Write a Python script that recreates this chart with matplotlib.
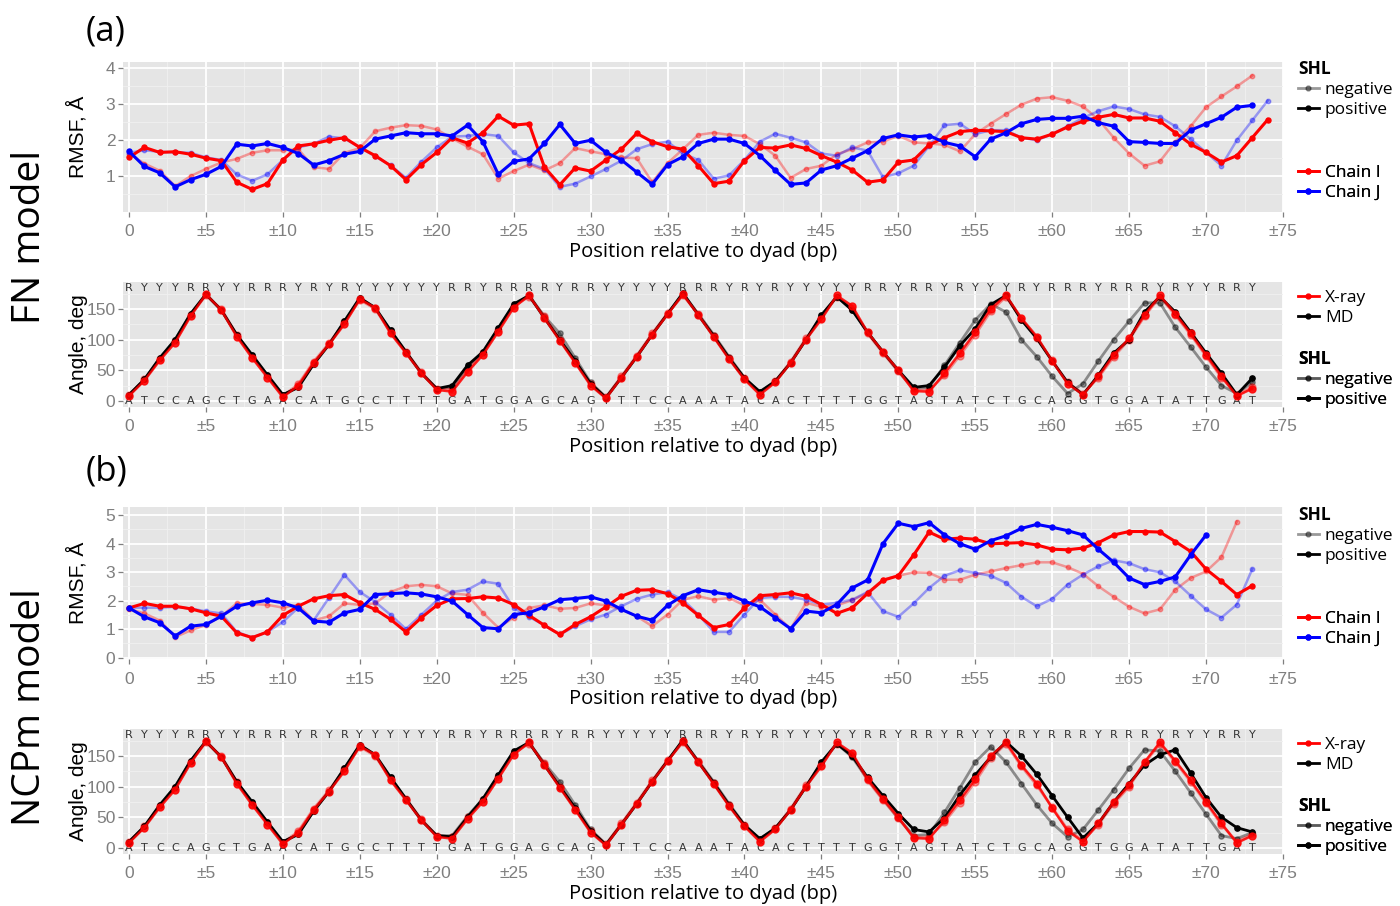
import numpy as np
import matplotlib.pyplot as plt
from matplotlib.lines import Line2D

plt.rcParams['font.family'] = ['Liberation Sans', 'DejaVu Sans']

# ---------------- data ----------------
tick_pos = list(range(0, 80, 5))
tick_labels = ['0'] + ['±%d' % t for t in tick_pos[1:]]

seq = "ATCCAGCTGAACATGCCTTTTGATGGAGCAGTTTCCAAATACACTTTTGGTAGTATCTGCAGGTGGATATTGAT"
ry = ''.join('R' if b in 'AG' else 'Y' for b in seq)

# (a) FN model, RMSF
fn_I_pos = [1.52, 1.80, 1.66, 1.68, 1.61, 1.50, 1.43, 0.83, 0.63, 0.79,
            1.45, 1.84, 1.90, 2.00, 2.07, 1.80, 1.57, 1.29, 0.90, 1.32,
            1.66, 2.07, 1.92, 2.21, 2.67, 2.42, 2.46, 1.25, 0.76, 1.23,
            1.14, 1.45, 1.75, 2.19, 1.96, 1.82, 1.75, 1.29, 0.79, 0.86,
            1.43, 1.80, 1.78, 1.87, 1.77, 1.57, 1.39, 1.17, 0.83, 0.89,
            1.39, 1.45, 1.87, 2.07, 2.24, 2.28, 2.26, 2.24, 2.07, 2.03,
            2.17, 2.37, 2.53, 2.64, 2.72, 2.62, 2.62, 2.53, 2.21, 1.89,
            1.66, 1.39, 1.57, 2.07, 2.57]
fn_I_neg = [1.62, 1.35, 1.15, 0.72, 1.00, 1.20, 1.38, 1.48, 1.65, 1.72,
            1.72, 1.75, 1.25, 1.20, 1.65, 1.78, 2.25, 2.35, 2.42, 2.40,
            2.30, 2.05, 1.82, 1.61, 0.93, 1.14, 1.32, 1.16, 1.36, 1.78,
            1.69, 1.61, 1.52, 1.50, 0.83, 1.36, 1.75, 2.15, 2.21, 2.15,
            2.12, 1.89, 1.57, 0.95, 1.20, 1.29, 1.61, 1.75, 1.94, 1.96,
            2.12, 1.94, 1.91, 1.87, 1.69, 2.17, 2.46, 2.73, 2.99, 3.16,
            3.20, 3.10, 2.94, 2.58, 2.07, 1.63, 1.29, 1.41, 1.96, 2.39,
            2.92, 3.22, 3.50, 3.80]
fn_J_pos = [1.69, 1.27, 1.09, 0.70, 0.90, 1.05, 1.27, 1.89, 1.84, 1.91,
            1.80, 1.63, 1.31, 1.43, 1.61, 1.69, 2.03, 2.12, 2.21, 2.18,
            2.18, 2.12, 2.42, 1.96, 1.05, 1.41, 1.48, 1.91, 2.44, 1.91,
            2.00, 1.66, 1.45, 1.11, 0.77, 1.32, 1.54, 1.91, 2.03, 2.03,
            1.91, 1.57, 1.16, 0.77, 0.81, 1.17, 1.29, 1.50, 1.71, 2.05,
            2.15, 2.09, 2.13, 1.94, 1.84, 1.54, 2.03, 2.21, 2.46, 2.58,
            2.61, 2.61, 2.67, 2.49, 2.39, 1.96, 1.94, 1.91, 1.91, 2.28,
            2.46, 2.64, 2.92, 2.97]
fn_J_neg = [1.65, 1.72, 1.68, 1.66, 1.65, 1.52, 1.45, 1.05, 0.87, 1.05,
            1.45, 1.80, 1.90, 2.10, 2.05, 1.80, 1.55, 1.30, 0.95, 1.40,
            1.80, 2.10, 2.12, 2.17, 2.12, 1.66, 1.36, 1.20, 0.70, 0.79,
            0.99, 1.20, 1.43, 1.75, 1.89, 1.96, 1.63, 1.45, 0.93, 1.02,
            1.45, 1.96, 2.18, 2.07, 1.94, 1.63, 1.57, 1.80, 1.71, 0.97,
            1.08, 1.29, 1.84, 2.42, 2.46, 2.17, 2.28, 2.28, 2.07, 2.00,
            2.17, 2.39, 2.62, 2.81, 2.94, 2.87, 2.72, 2.65, 2.39, 2.03,
            1.66, 1.29, 2.00, 2.55, 3.10]

# (b) NCPm model, RMSF
nc_I_pos = [1.74, 1.90, 1.80, 1.80, 1.71, 1.57, 1.45, 0.87, 0.70, 0.90,
            1.48, 1.80, 2.06, 2.17, 2.21, 1.92, 1.69, 1.34, 0.90, 1.40,
            1.83, 2.06, 2.07, 2.13, 2.09, 1.86, 1.48, 1.13, 0.81, 1.16,
            1.43, 1.78, 2.15, 2.36, 2.38, 2.24, 1.92, 1.48, 1.05, 1.16,
            1.74, 2.17, 2.21, 2.27, 2.15, 1.86, 1.55, 1.74, 2.25, 2.71,
            2.87, 3.60, 4.40, 4.15, 4.19, 4.15, 3.99, 4.01, 4.03, 3.95,
            3.80, 3.78, 3.84, 4.03, 4.30, 4.42, 4.42, 4.40, 4.07, 3.72,
            3.10, 2.67, 2.21, 2.52]
nc_I_neg = [1.70, 1.55, 1.30, 0.72, 0.95, 1.15, 1.45, 1.90, 1.88, 1.85,
            1.75, 1.85, 1.30, 1.45, 1.90, 1.85, 1.90, 2.30, 2.50, 2.55,
            2.50, 2.25, 2.20, 1.57, 1.05, 1.40, 1.74, 1.83, 1.71, 1.74,
            1.90, 1.83, 1.69, 1.45, 1.10, 1.51, 2.03, 2.15, 2.03, 2.09,
            1.83, 2.03, 1.51, 1.01, 1.92, 1.78, 1.83, 2.01, 2.27, 2.73,
            2.87, 2.99, 2.97, 2.73, 2.73, 2.91, 3.02, 3.14, 3.24, 3.34,
            3.34, 3.17, 2.94, 2.50, 2.13, 1.78, 1.55, 1.69, 2.38, 2.79,
            3.02, 3.52, 4.77]
nc_J_pos = [1.74, 1.43, 1.22, 0.76, 1.10, 1.16, 1.45, 1.80, 1.92, 2.01,
            1.92, 1.74, 1.28, 1.24, 1.57, 1.69, 2.21, 2.24, 2.27, 2.23,
            2.13, 1.98, 1.51, 1.05, 1.01, 1.51, 1.57, 1.78, 2.03, 2.07,
            2.13, 1.98, 1.69, 1.45, 1.31, 1.83, 2.17, 2.38, 2.29, 2.21,
            1.98, 1.78, 1.40, 1.01, 1.63, 1.57, 1.86, 2.44, 2.72, 3.99,
            4.71, 4.59, 4.73, 4.30, 3.99, 3.80, 4.10, 4.27, 4.53, 4.67,
            4.57, 4.45, 4.30, 3.80, 3.34, 2.79, 2.56, 2.67, 2.83, 3.60,
            4.30]
nc_J_neg = [1.75, 1.75, 1.75, 1.78, 1.72, 1.62, 1.55, 0.90, 0.70, 0.90,
            1.25, 1.75, 1.30, 2.10, 2.90, 2.30, 1.95, 1.50, 1.00, 1.50,
            2.00, 2.30, 2.38, 2.67, 2.59, 1.74, 1.43, 1.13, 0.81, 1.10,
            1.34, 1.51, 1.80, 2.06, 2.21, 2.29, 2.03, 1.51, 0.90, 0.90,
            1.51, 2.09, 2.13, 2.13, 2.03, 1.86, 1.92, 2.03, 2.30, 1.63,
            1.43, 1.90, 2.44, 2.87, 3.06, 2.97, 2.87, 2.62, 2.13, 1.80,
            2.06, 2.56, 2.91, 3.20, 3.41, 3.31, 3.10, 2.99, 2.67, 2.17,
            1.69, 1.40, 1.86, 3.10]

# angles, deg (X-ray shared by both models)
xray_pos = [8, 33, 66, 95, 138, 174, 148, 105, 70, 38,
            6, 25, 62, 92, 125, 166, 152, 110, 78, 45,
            18, 15, 47, 75, 113, 152, 172, 135, 98, 62,
            25, 4, 38, 72, 108, 141, 174, 140, 104, 68,
            35, 10, 30, 62, 100, 133, 172, 155, 112, 80,
            50, 16, 15, 45, 78, 112, 150, 172, 135, 105,
            65, 28, 10, 40, 75, 102, 140, 172, 142, 110,
            75, 40, 8, 20]
xray_neg = [10, 35, 68, 97, 140, 172, 150, 108, 72, 40,
            8, 27, 64, 94, 128, 165, 150, 112, 80, 47,
            20, 18, 50, 78, 116, 155, 170, 138, 100, 64,
            28, 6, 40, 74, 110, 143, 172, 142, 106, 70,
            37, 12, 32, 64, 102, 136, 170, 152, 110, 78,
            48, 18, 17, 42, 74, 108, 146, 170, 133, 102,
            66, 30, 12, 38, 72, 100, 138, 170, 140, 108,
            73, 38, 10, 22]
fn_md_pos = [10, 35, 70, 100, 142, 174, 148, 108, 75, 42,
             10, 22, 60, 92, 130, 168, 152, 115, 80, 45,
             20, 25, 58, 80, 119, 158, 172, 135, 100, 65,
             28, 5, 38, 72, 108, 142, 176, 140, 106, 70,
             37, 15, 32, 62, 100, 140, 170, 148, 112, 80,
             50, 22, 25, 55, 90, 118, 157, 172, 132, 102,
             65, 30, 10, 42, 78, 100, 145, 170, 145, 112,
             78, 45, 10, 37]
fn_md_neg = [10, 35, 70, 100, 142, 174, 148, 108, 75, 42,
             10, 22, 60, 92, 130, 168, 152, 115, 80, 45,
             20, 22, 55, 80, 118, 156, 172, 138, 110, 70,
             30, 6, 38, 72, 108, 142, 175, 142, 108, 72,
             38, 14, 32, 62, 100, 138, 170, 148, 112, 80,
             48, 20, 22, 58, 95, 132, 158, 145, 100, 72,
             40, 12, 28, 65, 100, 130, 160, 160, 120, 88,
             55, 25, 12, 30]
nc_md_pos = [10, 35, 70, 100, 142, 174, 148, 108, 75, 42,
             10, 22, 60, 92, 130, 168, 152, 115, 80, 45,
             20, 18, 50, 80, 119, 158, 172, 135, 100, 65,
             28, 5, 38, 72, 108, 142, 176, 140, 106, 70,
             37, 15, 32, 62, 100, 140, 170, 150, 115, 85,
             56, 30, 26, 49, 86, 119, 148, 173, 150, 120,
             85, 50, 16, 40, 75, 105, 135, 152, 160, 122,
             82, 50, 33, 26]
nc_md_neg = [10, 35, 70, 100, 142, 174, 148, 108, 75, 42,
             10, 22, 60, 92, 130, 168, 152, 115, 80, 45,
             20, 20, 52, 80, 118, 156, 172, 138, 108, 70,
             30, 6, 38, 72, 108, 142, 175, 142, 108, 72,
             38, 14, 32, 62, 100, 138, 170, 148, 112, 80,
             48, 20, 22, 58, 98, 140, 165, 140, 105, 70,
             40, 18, 30, 62, 95, 130, 160, 158, 125, 90,
             55, 20, 15, 25]

RED = '#FF0000'
BLUE = '#0000FF'
W, H = 1400, 906


def style(ax, ylim, yticks, yminor):
    ax.set_facecolor('#E5E5E5')
    ax.set_xticks(tick_pos)
    ax.set_xticklabels(tick_labels)
    ax.set_xticks(np.arange(2.5, 75, 5), minor=True)
    ax.set_yticks(yticks)
    ax.set_yticks(yminor, minor=True)
    ax.set_xlim(-0.39, 75.0)
    ax.set_ylim(*ylim)
    ax.grid(which='major', color='white', lw=1.3)
    ax.grid(which='minor', color='#F0F0F0', lw=0.6)
    ax.set_axisbelow(True)
    for s in ax.spines.values():
        s.set_visible(False)
    ax.tick_params(which='major', colors='#7F7F7F', labelsize=12.5,
                   length=3.5, width=0.9)
    ax.tick_params(axis='x', which='major', pad=5.5)
    ax.tick_params(axis='y', which='major', pad=2)
    ax.tick_params(which='minor', length=0)
    ax.set_xlabel('Position relative to dyad (bp)', fontsize=14.5,
                  family=['Open Sans', 'DejaVu Sans'], labelpad=2)


def legend_at(ax, handles, labels, top_px, title=None):
    lg = ax.legend(handles, labels, title=title, loc='upper left',
                   bbox_to_anchor=(1298 / W, 1 - top_px / H),
                   bbox_transform=ax.figure.transFigure, frameon=False,
                   handlelength=1.2, handletextpad=0.35,
                   labelspacing=0.22, borderpad=0, borderaxespad=0,
                   alignment='left',
                   prop={'family': ['Open Sans', 'DejaVu Sans'], 'size': 12.5},
                   title_fontproperties={'weight': 'bold', 'size': 12.5,
                                         'family': ['Open Sans', 'DejaVu Sans']})
    ax.add_artist(lg)
    return lg


def key(color, alpha=1.0):
    return Line2D([], [], color=color, alpha=alpha, lw=2, marker='o', ms=3.5)


shl_h = [key('black', 0.4), key('black')]
shl_l = ['negative', 'positive']


def rmsf_panel(ax, i_pos, i_neg, j_pos, j_neg, ylim, yticks, top_px):
    ax.plot(range(len(i_neg)), i_neg, color=RED, alpha=0.35, lw=1.8, marker='o', ms=3.2)
    ax.plot(range(len(j_neg)), j_neg, color=BLUE, alpha=0.35, lw=1.8, marker='o', ms=3.2)
    ax.plot(range(len(i_pos)), i_pos, color=RED, lw=2.2, marker='o', ms=3.6)
    ax.plot(range(len(j_pos)), j_pos, color=BLUE, lw=2.2, marker='o', ms=3.6)
    minor = [y + 0.5 for y in range(0, 5)]
    style(ax, ylim, yticks, minor)
    ax.set_ylabel('RMSF, Å', fontsize=15, labelpad=13)
    legend_at(ax, shl_h, shl_l, top_px, title='SHL')
    legend_at(ax, [key(RED), key(BLUE)], ['Chain I', 'Chain J'], top_px + 105)


def angle_panel(ax, md_pos, md_neg, top_px):
    for k in range(len(seq)):
        ax.text(k, 185, ry[k], ha='center', va='center', fontsize=8,
                color='#333333', family='DejaVu Sans', zorder=1.5)
        ax.text(k, 0, seq[k], ha='center', va='center', fontsize=8,
                color='#333333', family='DejaVu Sans', zorder=1.5)
    x = range(len(xray_pos))
    ax.plot(x, md_neg, color='black', alpha=0.4, lw=2, marker='o', ms=3.8, zorder=2)
    ax.plot(x, xray_neg, color=RED, alpha=0.4, lw=2, marker='o', ms=5, zorder=2.1)
    ax.plot(x, md_pos, color='black', lw=2, marker='o', ms=3.8, zorder=2.2)
    ax.plot(x, xray_pos, color=RED, alpha=0.85, lw=1.8, marker='o', ms=5, zorder=2.3)
    style(ax, (-10, 194), [0, 50, 100, 150], [25, 75, 125, 175])
    ax.set_ylabel('Angle, deg', fontsize=15, labelpad=-1)
    legend_at(ax, [key(RED), key('black')], ['X-ray', 'MD'], top_px)
    legend_at(ax, shl_h, shl_l, top_px + 60, title='SHL')


fig = plt.figure(figsize=(14, 9.06), dpi=100)
L, Wd = 123 / W, 1160 / W
ax_a1 = fig.add_axes([L, 1 - 212 / H, Wd, 150 / H])
ax_a2 = fig.add_axes([L, 1 - 407 / H, Wd, 125 / H])
ax_b1 = fig.add_axes([L, 1 - 659 / H, Wd, 152 / H])
ax_b2 = fig.add_axes([L, 1 - 854 / H, Wd, 125 / H])

rmsf_panel(ax_a1, fn_I_pos, fn_I_neg, fn_J_pos, fn_J_neg, (0.0, 4.18), [1, 2, 3, 4], 60)
angle_panel(ax_a2, fn_md_pos, fn_md_neg, 290)
rmsf_panel(ax_b1, nc_I_pos, nc_I_neg, nc_J_pos, nc_J_neg, (-0.05, 5.28), [0, 1, 2, 3, 4, 5], 506)
angle_panel(ax_b2, nc_md_pos, nc_md_neg, 737)

big = ['Open Sans', 'DejaVu Sans']
fig.text(86 / W, 1 - 32 / H, '(a)', fontsize=25, family=big, ha='left', va='center')
fig.text(86 / W, 1 - 472 / H, '(b)', fontsize=25, family=big, ha='left', va='center')
fig.text(30 / W, 1 - 237 / H, 'FN model', fontsize=28, family=big, rotation=90,
         ha='center', va='center')
fig.text(30 / W, 1 - 707 / H, 'NCPm model', fontsize=28, family=big, rotation=90,
         ha='center', va='center')

fig.savefig('out.png', dpi=100)
